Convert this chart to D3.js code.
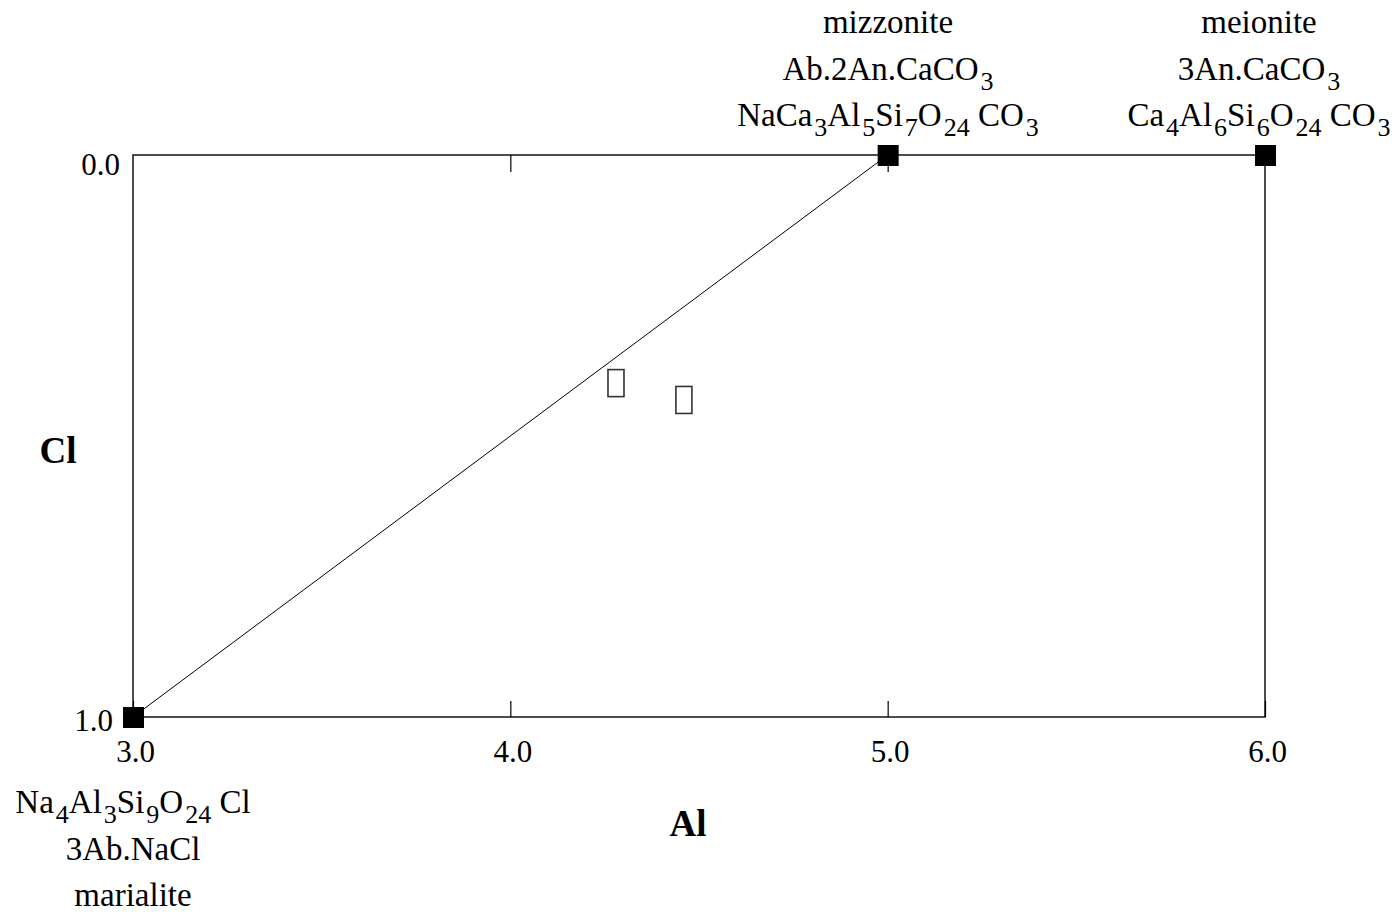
<!DOCTYPE html>
<html>
<head>
<meta charset="utf-8">
<script src="https://cdn.jsdelivr.net/npm/d3@7"></script>
<style>
  body { margin: 0; background: #fff; }
  text { font-family: "Liberation Serif", "DejaVu Serif", serif; fill: #000; }
</style>
</head>
<body>
<div id="chart"></div>
<script>
// Set dimensions
const width = 1395;
const height = 912;
const margin = { top: 155, right: 130, bottom: 195, left: 133 };

// End members of the scapolite series
const names = ["mizzonite", "meionite", "marialite"];
const alValues = [5.0, 6.0, 3.0];
const clValues = [0.0, 0.0, 1.0];
// label lines, "_n" = subscript
const labelLines = [
  ["mizzonite", "Ab.2An.CaCO_3", "NaCa_3Al_5Si_7O_24 CO_3"],
  ["meionite", "3An.CaCO_3", "Ca_4Al_6Si_6O_24 CO_3"],
  ["Na_4Al_3Si_9O_24 Cl", "3Ab.NaCl", "marialite"]
];

// join line marialite -> mizzonite
const joinAl = [3.0, 5.0];
const joinCl = [1.0, 0.0];

// two open symbols (unrendered glyphs in the original)
const openAl = [4.28, 4.46];
const openCl = [0.405, 0.435];

const xTicks = [3.0, 4.0, 5.0, 6.0];
const yTicks = [0.0, 1.0];

const x = d3.scaleLinear().domain([3, 6]).range([margin.left, width - margin.right]);
const y = d3.scaleLinear().domain([0, 1]).range([margin.top, height - margin.bottom]);

const svg = d3.select("#chart")
  .append("svg")
  .attr("width", width)
  .attr("height", height)
  .attr("viewBox", [0, 0, width, height]);

// frame
svg.append("rect")
  .attr("x", x(3)).attr("y", y(0))
  .attr("width", x(6) - x(3)).attr("height", y(1) - y(0))
  .attr("fill", "none").attr("stroke", "#000").attr("stroke-width", 1.4);

// bottom axis (labels + inward ticks)
const bottomAxis = svg.append("g")
  .attr("transform", `translate(0,${y(1)})`)
  .call(d3.axisBottom(x).tickValues(xTicks).tickFormat(d3.format(".1f"))
    .tickSizeInner(-16).tickSizeOuter(0).tickPadding(23));
bottomAxis.select(".domain").remove();
bottomAxis.selectAll("line").attr("stroke", "#000").attr("stroke-width", 1.2);
bottomAxis.selectAll("text").style("font-family", "Liberation Serif").style("font-size", "31px")
  .attr("fill", "#000").attr("dy", "0.72em").attr("dx", 2);

// top axis (inward ticks only)
const topAxis = svg.append("g")
  .attr("transform", `translate(0,${y(0)})`)
  .call(d3.axisTop(x).tickValues([4.0, 5.0]).tickFormat("").tickSizeInner(-17).tickSizeOuter(0));
topAxis.select(".domain").remove();
topAxis.selectAll("line").attr("stroke", "#000").attr("stroke-width", 1.2);

// left axis labels
const leftAxis = svg.append("g")
  .attr("transform", `translate(${x(3)},0)`)
  .call(d3.axisLeft(y).tickValues(yTicks).tickFormat(d3.format(".1f"))
    .tickSize(0).tickPadding(13));
leftAxis.select(".domain").remove();
leftAxis.selectAll("text").style("font-family", "Liberation Serif").style("font-size", "31px")
  .attr("fill", "#000").attr("x", (d, i) => i === 0 ? -13 : -20)
  .attr("dy", (d, i) => i === 0 ? "0.62em" : "0.45em");

// join line
svg.append("path")
  .datum(d3.zip(joinAl, joinCl))
  .attr("d", d3.line().x(d => x(d[0])).y(d => y(d[1])))
  .attr("fill", "none").attr("stroke", "#000").attr("stroke-width", 1);

// open symbols
svg.selectAll("rect.open")
  .data(d3.zip(openAl, openCl))
  .join("rect")
  .attr("class", "open")
  .attr("x", d => x(d[0]) - 8).attr("y", d => y(d[1]) - 13)
  .attr("width", 16).attr("height", 27)
  .attr("fill", "#fff").attr("stroke", "#333").attr("stroke-width", 1.6);

// end member squares
svg.selectAll("rect.member")
  .data(d3.zip(alValues, clValues))
  .join("rect")
  .attr("class", "member")
  .attr("x", d => x(d[0]) - 10).attr("y", d => y(d[1]) - 10)
  .attr("width", 21).attr("height", 21)
  .attr("fill", "#000");

// formula text with subscripts
function addFormula(sel, str) {
  const parts = str.split(/_(\d+)/);
  parts.forEach((p, i) => {
    if (p === "") return;
    if (i % 2 === 1) {
      sel.append("tspan").text(p).attr("dy", 10).attr("dx", 2).style("font-size", "26px");
    } else {
      const t = sel.append("tspan").text(p);
      if (i > 0) t.attr("dy", -10);
    }
  });
}

const labelPos = [
  { cx: 888, y0: 33 },
  { cx: 1259, y0: 33 },
  { cx: 133, y0: 813 }
];
labelLines.forEach((lines, k) => {
  lines.forEach((ln, j) => {
    const t = svg.append("text")
      .attr("x", labelPos[k].cx)
      .attr("y", labelPos[k].y0 + j * 46.5)
      .attr("text-anchor", "middle")
      .style("font-size", "33px");
    addFormula(t, ln);
  });
});

// axis titles
svg.append("text").attr("x", 58).attr("y", 463).attr("text-anchor", "middle")
  .style("font-size", "37px").style("font-weight", "bold").text("Cl");
svg.append("text").attr("x", 688).attr("y", 836).attr("text-anchor", "middle")
  .style("font-size", "37px").style("font-weight", "bold").text("Al");
</script>
</body>
</html>
